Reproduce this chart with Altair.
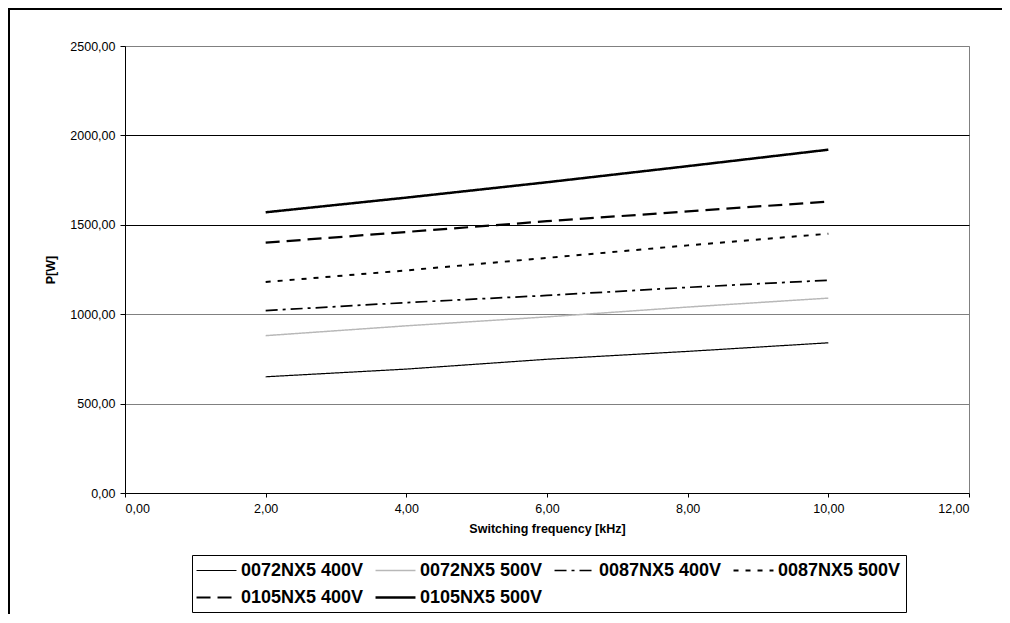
import altair as alt
import pandas as pd

series = ["0072NX5 400V", "0072NX5 500V", "0087NX5 400V",
          "0087NX5 500V", "0105NX5 400V", "0105NX5 500V"]
freq = [2, 4, 6, 8, 10]
values = {
    "0072NX5 400V": [650, 693, 748, 792, 840],
    "0072NX5 500V": [880, 935, 985, 1040, 1090],
    "0087NX5 400V": [1020, 1065, 1105, 1150, 1190],
    "0087NX5 500V": [1180, 1245, 1315, 1385, 1450],
    "0105NX5 400V": [1400, 1460, 1520, 1575, 1630],
    "0105NX5 500V": [1570, 1652, 1738, 1828, 1920],
}
x_ticks = [0, 2, 4, 6, 8, 10, 12]
y_ticks = [0, 500, 1000, 1500, 2000, 2500]

rows = []
for s in series:
    for f, v in zip(freq, values[s]):
        rows.append({"series": s, "f": f, "p": v})
df = pd.DataFrame(rows)

label_expr = "replace(format(datum.value, '.2f'), '.', ',')"

lines = alt.Chart(df).mark_line(clip=False).encode(
    x=alt.X("f:Q", scale=alt.Scale(domain=[0, 12], nice=False),
            axis=alt.Axis(values=x_ticks, labelExpr=label_expr, grid=False,
                          title="Switching frequency [kHz]", titleFontWeight="bold",
                          titleFontSize=12.5, titlePadding=8, labelPadding=5,
                          tickSize=4, labelFontSize=12.5, labelColor="black",
                          titleColor="black", domainColor="black", tickColor="black")),
    y=alt.Y("p:Q", scale=alt.Scale(domain=[0, 2500], nice=False),
            axis=alt.Axis(values=y_ticks, labelExpr=label_expr, grid=True,
                          gridColor={"condition": {"test": "datum.value == 2000 || datum.value == 1500",
                                                   "value": "#000000"}, "value": "#808080"},
                          title="P[W]", titleFontWeight="bold", titleFontSize=12.5,
                          titlePadding=12, labelPadding=5, tickSize=5,
                          labelFontSize=12.5, labelColor="black", titleColor="black",
                          domainColor="black", tickColor="black")),
    color=alt.Color("series:N", sort=series,
                    scale=alt.Scale(domain=series,
                                    range=["#000000", "#b8b8b8", "#000000", "#000000", "#000000", "#000000"]),
                    legend=alt.Legend(title=None, orient="none", legendX=67, legendY=509,
                                      columns=4, direction="horizontal",
                                      symbolType="M-2.22,0H2.22", symbolSize=324,
                                      symbolOffset=9, labelOffset=14,
                                      labelFontSize=18, labelFontWeight="bold",
                                      labelFont="Liberation Sans", labelColor="black",
                                      labelLimit=0, columnPadding=6,
                                      rowPadding=7, padding=5, strokeColor="#000000",
                                      gridAlign="all")),
    strokeDash=alt.StrokeDash("series:N", sort=series,
                              scale=alt.Scale(domain=series,
                                              range=[[1, 0], [1, 0], [12, 5, 3, 5], [5, 7], [14, 7], [1, 0]]),
                              legend=alt.Legend(title=None)),
    strokeWidth=alt.StrokeWidth("series:N", sort=series,
                                scale=alt.Scale(domain=series, range=[1.2, 2.5, 2.5, 2.5, 3, 2.5]),
                                legend=alt.Legend(title=None)),
)

frame_top = alt.Chart(df).mark_rule(color="black", strokeWidth=2).encode(
    x=alt.value(-117), x2=alt.value(880), y=alt.value(-37))
frame_left = alt.Chart(df).mark_rule(color="black", strokeWidth=2).encode(
    x=alt.value(-116), y=alt.value(-38), y2=alt.value(580))

chart = alt.layer(lines, frame_top, frame_left).properties(
    width=844, height=447,
    padding={"left": 117, "top": 38, "right": 33, "bottom": 121},
    autosize=alt.AutoSizeParams(type="none"),
).configure(font="Liberation Sans").configure_view(stroke="#808080", strokeWidth=1)

chart.save("out.html", embed_options={"renderer": "svg", "actions": False})
